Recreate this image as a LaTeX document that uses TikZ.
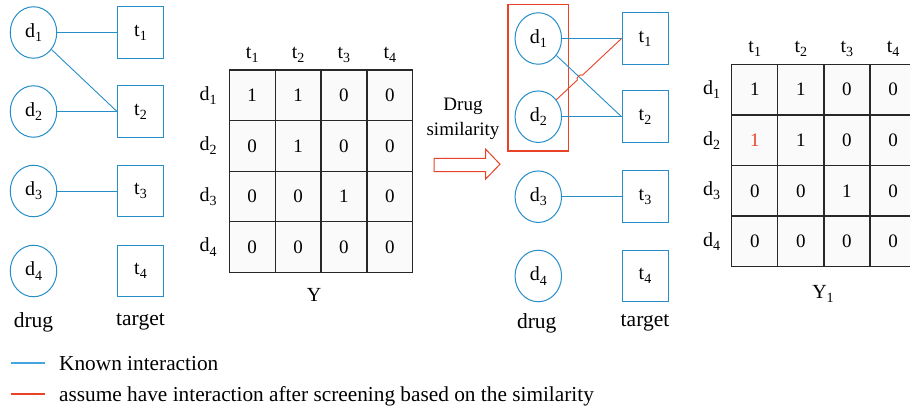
\documentclass[tikz,border=0pt]{standalone}
\usepackage{fontspec}
\setmainfont{Liberation Serif}
\usetikzlibrary{shapes.geometric,fit,calc,intersections}
\definecolor{iblue}{RGB}{38,142,200}
\definecolor{legblue}{RGB}{70,165,225}
\definecolor{ired}{RGB}{233,66,40}
\definecolor{gridc}{RGB}{40,40,40}
\definecolor{cellc}{RGB}{250,250,250}
\newcommand\lsub[1]{\raisebox{-0.45ex}{\fontsize{14}{14}\selectfont #1}}
\begin{document}
\begin{tikzpicture}[x=1pt,y=-1pt,
  every node/.style={font=\fontsize{20}{25}\selectfont, inner sep=0pt},
  drugnode/.style={ellipse, draw=iblue, line width=1pt, minimum width=46.5pt, minimum height=51.5pt},
  targetnode/.style={rectangle, draw=iblue, line width=1pt, minimum width=46pt, minimum height=51.5pt},
  known/.style={draw=iblue, line width=0.9pt},
  assumed/.style={draw=ired, line width=0.9pt},
  gridline/.style={draw=gridc, line width=1.3pt},
  digit/.style={font=\fontsize{19}{20}\selectfont},
  caption/.style={font=\fontsize{21.5}{25}\selectfont},
  legtext/.style={font=\fontsize{21.3}{25}\selectfont, anchor=base west}]
\clip (0,0) rectangle (910,406);
\fill[white] (0,0) rectangle (910,406);

% ---------- left graph ----------
\foreach \i/\y in {1/32.5,2/111.5,3/191,4/271}{
  \node[drugnode] (ld\i) at (33.5,\y) {d\lsub{\i}};
  \node[targetnode] (lt\i) at (140.5,\y) {t\lsub{\i}};
}
\draw[known] (ld1) -- (lt1);
\draw[known] (ld1) -- (lt2.west);
\draw[known] (ld2) -- (lt2);
\draw[known] (ld3) -- (lt3);
\node[caption] (ldrug) at (33.5,322) {drug};
\node[caption] (ltarget) at (140.5,322) {target};

% ---------- left matrix Y ----------
\fill[cellc] (229.3,70) rectangle (412.7,272.3);
\foreach \i in {0,...,4}{
  \draw[gridline] ({229.3+\i*45.85},70) -- ({229.3+\i*45.85},272.3);
  \draw[gridline] (229.3,{70+\i*50.6}) -- (412.7,{70+\i*50.6});
}
\foreach \i in {1,...,4}{
  \node (yLt\i) at ({229.3+(\i-0.5)*45.85},55) {t\lsub{\i}};
  \node (yLd\i) at (208,{70+(\i-0.5)*50.6}) {d\lsub{\i}};
}
\foreach \v [count=\k from 0] in {1,1,0,0, 0,1,0,0, 0,0,1,0, 0,0,0,0}{
  \pgfmathtruncatemacro\cc{mod(\k,4)}
  \pgfmathtruncatemacro\rr{int(\k/4)}
  \node[digit] (yL-\rr-\cc) at ({229.3+(\cc+0.5)*45.85},{70+(\rr+0.5)*50.6}) {\v};
}
\node[anchor=base] (ylab) at (314,301) {Y};

% ---------- arrow + label ----------
\node[align=center, font=\fontsize{19}{25}\selectfont] (simlabel) at (463,119) {Drug\\similarity};
\draw[ired, line width=1pt, fill=white] (434,158.3) -- (485.7,158.3) -- (485.7,149.3) -- (500,164.2) -- (485.7,179) -- (485.7,171.7) -- (434,171.7) -- cycle;

% ---------- right graph ----------
\foreach \i/\y in {1/38.5,2/116.7,3/196.7,4/276}{
  \node[drugnode] (rd\i) at (538.3,\y) {d\lsub{\i}};
  \node[targetnode] (rt\i) at (645,\y) {t\lsub{\i}};
}
\node[draw=ired, line width=1.2pt, fit=(rd1)(rd2), inner xsep=6.5pt, inner ysep=8pt] (simbox) {};
\draw[known] (rd1) -- (rt1);
\draw[known, name path=bl] (rd1) -- (rt2.west);
\draw[known] (rd2) -- (rt2);
\draw[known] (rd3) -- (rt3);
\path[name path=rl] (rd2.center) -- (rt1.west);
\path[name intersections={of=bl and rl, by=X}];
\coordinate (h1) at ($(X)!3.5pt!(rd2.center)$);
\coordinate (h2) at ($(X)!3.5pt!(rt1.west)$);
\draw[assumed] (rd2) -- (h1) to[bend left=90] (h2) -- (rt1.west);
\node[caption] (rdrug) at (536.7,323) {drug};
\node[caption] (rtarget) at (645,323) {target};

% ---------- right matrix Y1 ----------
\fill[cellc] (731.7,64.3) rectangle (916,266.7);
\foreach \i in {0,...,4}{
  \draw[gridline] ({731.7+\i*46.1},64.3) -- ({731.7+\i*46.1},266.7);
  \draw[gridline] (731.7,{64.3+\i*50.6}) -- (916,{64.3+\i*50.6});
}
\foreach \i in {1,...,4}{
  \node (yRt\i) at ({731.7+(\i-0.5)*46.1},49.3) {t\lsub{\i}};
  \node (yRd\i) at (711.7,{64.3+(\i-0.5)*50.6}) {d\lsub{\i}};
}
\foreach \v/\col [count=\k from 0] in {1/black,1/black,0/black,0/black, 1/ired,1/black,0/black,0/black, 0/black,0/black,1/black,0/black, 0/black,0/black,0/black,0/black}{
  \pgfmathtruncatemacro\cc{mod(\k,4)}
  \pgfmathtruncatemacro\rr{int(\k/4)}
  \node[digit, text=\col] (yR-\rr-\cc) at ({731.7+(\cc+0.5)*46.1},{64.3+(\rr+0.5)*50.6}) {\v};
}
\node[anchor=base] (y1lab) at (823,298) {Y\lsub{1}};

% ---------- legend ----------
\coordinate (k1) at (11,363);
\coordinate (k2) at (45,363);
\draw[draw=legblue, line width=1.8pt] (k1) -- (k2);
\node[legtext] (ktext) at (59,370) {Known interaction};
\coordinate (a1) at (11,394);
\coordinate (a2) at (45,394);
\draw[draw=ired, line width=1.8pt] (a1) -- (a2);
\node[legtext] (atext) at (59,401) {assume have interaction after screening based on the similarity};
\end{tikzpicture}
\end{document}
